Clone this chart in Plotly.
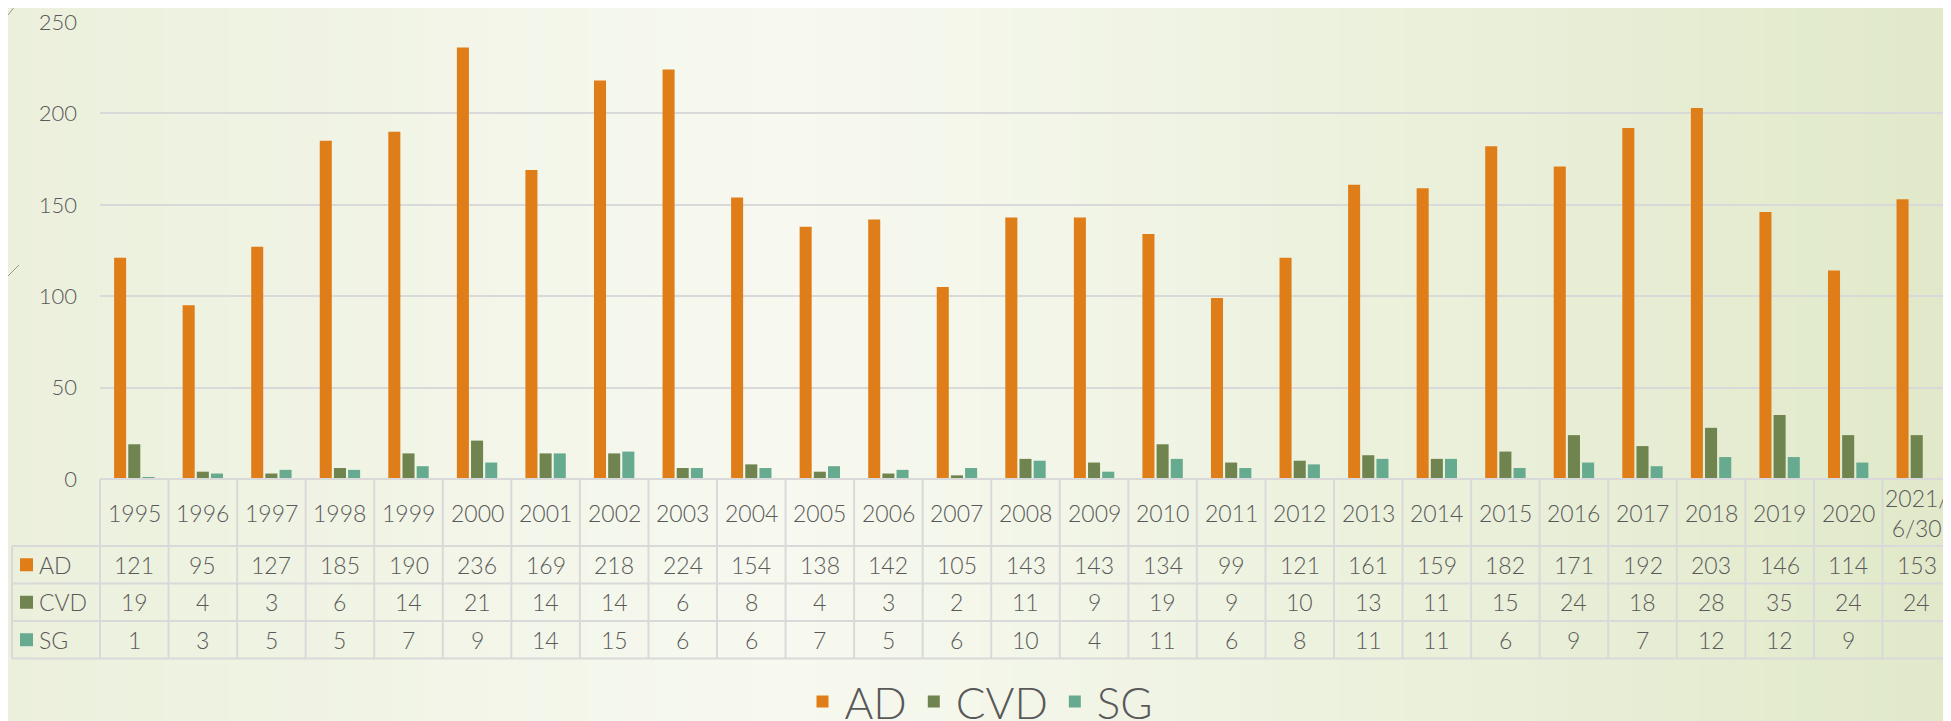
import plotly.graph_objects as go

years = ["1995", "1996", "1997", "1998", "1999", "2000", "2001", "2002", "2003",
         "2004", "2005", "2006", "2007", "2008", "2009", "2010", "2011", "2012",
         "2013", "2014", "2015", "2016", "2017", "2018", "2019", "2020", "2021/6/30"]
ad = [121, 95, 127, 185, 190, 236, 169, 218, 224, 154, 138, 142, 105, 143, 143,
      134, 99, 121, 161, 159, 182, 171, 192, 203, 146, 114, 153]
cvd = [19, 4, 3, 6, 14, 21, 14, 14, 6, 8, 4, 3, 2, 11, 9, 19, 9, 10, 13, 11, 15,
       24, 18, 28, 35, 24, 24]
sg = [1, 3, 5, 5, 7, 9, 14, 15, 6, 6, 7, 5, 6, 10, 4, 11, 6, 8, 11, 11, 6, 9, 7,
      12, 12, 9, None]

series = [("AD", ad, "#df7e19"), ("CVD", cvd, "#6f844f"), ("SG", sg, "#66ab8f")]

# the page puts the figure 8px in from the top-left corner
OFF = 8
W, H = 1951 - OFF, 721 - OFF
L, T = 100 - OFF, 22 - OFF
B = H - (479 - OFF)
PW = W - L
PH = H - T - B
FONT = "Lato"
TXT = "#595959"
GRID = "#d9d9d9"


def py(p):      # screen pixel y -> paper y
    return (H - B - (p - OFF)) / PH


def px(p):      # screen pixel x -> paper x
    return (p - OFF - L) / PW


fig = go.Figure()
for name, vals, col in series:
    fig.add_trace(go.Bar(x=years, y=vals, name=name, marker_color=col,
                         marker_line_width=0))

shapes = []
# soft background gradient
def mix(c1, c2, t):
    a = [int(c1[i:i + 2], 16) for i in (1, 3, 5)]
    b = [int(c2[i:i + 2], 16) for i in (1, 3, 5)]
    return "#%02x%02x%02x" % tuple(round(a[k] + (b[k] - a[k]) * t) for k in range(3))

n = 60
for i in range(n):
    t = i / (n - 1)
    if t < 0.4:
        c = mix("#ebf0dc", "#f7f9f0", t / 0.4)
    else:
        c = mix("#f7f9f0", "#e1e9ca", (t - 0.4) / 0.6)
    shapes.append(dict(type="rect", xref="paper", yref="paper", layer="below",
                       x0=px(i * 1960 / n), x1=px((i + 1) * 1960 / n + 1),
                       y0=py(730), y1=py(0), fillcolor=c, line_width=0))

# decorative slide lines
for (a, b, c, d) in [(8, 15, 20, 0), (8, 276, 19, 265)]:
    shapes.append(dict(type="line", xref="paper", yref="paper",
                       x0=px(a), y0=py(b), x1=px(c), y1=py(d),
                       line=dict(color="#9a9a86", width=1)))

# data table grid
ncol = len(years)
cw = PW / ncol
rows_y = [479, 546, 583.5, 621, 658.5]
for k, yy in enumerate(rows_y):
    x0 = 100 if k == 0 else 12
    shapes.append(dict(type="line", xref="paper", yref="paper",
                       x0=px(x0), x1=px(1960), y0=py(yy), y1=py(yy),
                       line=dict(color=GRID, width=2)))
for i in range(ncol + 1):
    xx = 100 + i * cw
    shapes.append(dict(type="line", xref="paper", yref="paper",
                       x0=px(xx), x1=px(xx), y0=py(479), y1=py(658.5),
                       line=dict(color=GRID, width=2)))
shapes.append(dict(type="line", xref="paper", yref="paper",
                   x0=px(12), x1=px(12), y0=py(546), y1=py(658.5),
                   line=dict(color=GRID, width=2)))

cell_font = dict(family=FONT, size=23, color=TXT, weight=300)
annotations = []
for i, yr in enumerate(years):
    annotations.append(dict(xref="paper", yref="paper", x=px(100 + (i + 0.5) * cw),
                            y=py(513), xanchor="center", yanchor="middle",
                            text=yr.replace("2021/", "2021/<br>"),
                            showarrow=False, font=cell_font))

for r, (name, vals, col) in enumerate(series):
    yc = (rows_y[r + 1] + rows_y[r + 2]) / 2
    shapes.append(dict(type="rect", xref="paper", yref="paper",
                       x0=px(20), x1=px(33), y0=py(yc - 6.5), y1=py(yc + 6.5),
                       fillcolor=col, line_width=0))
    annotations.append(dict(xref="paper", yref="paper", x=px(37), y=py(yc),
                            xanchor="left", yanchor="middle", text=name,
                            showarrow=False, font=cell_font))
    for i, v in enumerate(vals):
        if v is None:
            continue
        annotations.append(dict(xref="paper", yref="paper",
                                x=px(100 + (i + 0.5) * cw), y=py(yc),
                                xanchor="center", yanchor="middle", text=str(v),
                                showarrow=False, font=cell_font))

fig.update_layout(
    width=W, height=H,
    margin=dict(l=L, r=0, t=T, b=B, autoexpand=False),
    paper_bgcolor="#f2f5e8", plot_bgcolor="rgba(0,0,0,0)",
    barmode="group", bargap=0.38, bargroupgap=0.15,
    font=dict(family=FONT, color=TXT),
    shapes=shapes, annotations=annotations,
    legend=dict(orientation="h", xref="container", yref="paper",
                x=0.5, xanchor="center", y=py(702), yanchor="middle",
                font=dict(family=FONT, size=44, color=TXT, weight=300),
                bgcolor="rgba(0,0,0,0)", itemwidth=34),
    showlegend=True,
)
fig.update_xaxes(type="category", range=[-0.5, ncol - 0.5], showticklabels=False,
                 showgrid=False, zeroline=False, showline=False, ticks="",
                 automargin=False)
fig.update_yaxes(range=[0, 250], dtick=50, showgrid=True, gridcolor=GRID,
                 gridwidth=1.5, zeroline=False, showline=False, automargin=False,
                 tickfont=dict(family=FONT, size=22, color=TXT, weight=300),
                 ticklabelstandoff=22, ticklabeloverflow="allow")

fig.write_html("out.html")
